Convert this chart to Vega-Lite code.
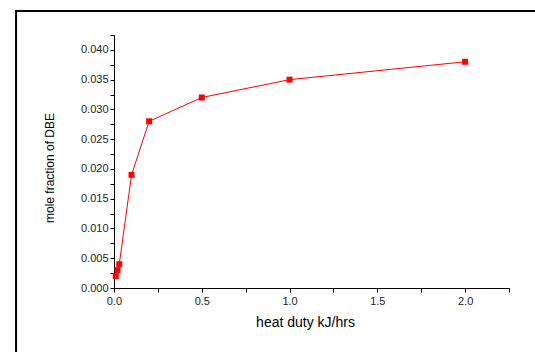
{
  "$schema": "https://vega.github.io/schema/vega-lite/v6.json",
  "width": 395,
  "height": 253,
  "autosize": {"type": "none"},
  "padding": {"left": 114, "top": 35, "right": 26, "bottom": 64},
  "background": "white",
  "config": {"view": {"stroke": null}, "font": "Liberation Sans", "axis": {"labelOverlap": false, "labelFlush": false}},
  "encoding": {
    "x": {"field": "x", "type": "quantitative",
      "scale": {"domain": [0, 2.25], "nice": false, "zero": false},
      "axis": {
        "values": [0, 0.25, 0.5, 0.75, 1, 1.25, 1.5, 1.75, 2, 2.25],
        "labelExpr": "round(datum.value*100) % 50 == 0 ? format(datum.value, '.1f') : ''",
        "grid": false, "tickSize": 4, "labelPadding": 3, "labelFontSize": 11,
        "labelColor": "#222", "domainColor": "#000", "tickColor": "#000",
        "title": "heat duty kJ/hrs", "titleFontSize": 14, "titleFontWeight": "normal",
        "titleColor": "#000", "titleX": 191, "titleY": 34, "titleBaseline": "middle",
        "labelFlush": false, "labelOverlap": false
      }},
    "y": {"field": "y", "type": "quantitative",
      "scale": {"domain": [0, 0.0425], "nice": false, "zero": false},
      "axis": {
        "values": [0, 0.0025, 0.005, 0.0075, 0.01, 0.0125, 0.015, 0.0175, 0.02, 0.0225, 0.025, 0.0275, 0.03, 0.0325, 0.035, 0.0375, 0.04, 0.0425],
        "labelExpr": "round(datum.value*10000) % 50 == 0 ? format(datum.value, '.3f') : ''",
        "grid": false, "tickSize": 4, "labelPadding": 2, "labelFontSize": 11,
        "labelColor": "#222", "domainColor": "#000", "tickColor": "#000",
        "title": "mole fraction of DBE", "titleFontSize": 12, "titleFontWeight": "normal",
        "titleColor": "#000", "titleX": -65, "titleY": 132.5, "titleBaseline": "middle",
        "titleAngle": -90, "labelFlush": false, "labelOverlap": false, "labelSeparation": -20
      }}
  },
  "layer": [
    {
      "data": {"values": [
        {"x": 0.01, "y": 0.002},
        {"x": 0.02, "y": 0.003},
        {"x": 0.03, "y": 0.004},
        {"x": 0.1, "y": 0.019},
        {"x": 0.2, "y": 0.028},
        {"x": 0.5, "y": 0.032},
        {"x": 1.0, "y": 0.035},
        {"x": 2.0, "y": 0.038}
      ]},
      "layer": [
        {"mark": {"type": "line", "color": "#ff0000", "strokeWidth": 1}},
        {"mark": {"type": "square", "color": "#ff0000", "filled": true, "size": 36, "opacity": 1}}
      ]
    },
    {
      "data": {"values": [{"x": -0.558, "xe": 3, "y": 0.04653, "ye": -0.03}]},
      "mark": {"type": "rect", "filled": false, "stroke": "#000", "strokeWidth": 2},
      "encoding": {
        "x2": {"field": "xe"},
        "y2": {"field": "ye"}
      }
    }
  ]
}
